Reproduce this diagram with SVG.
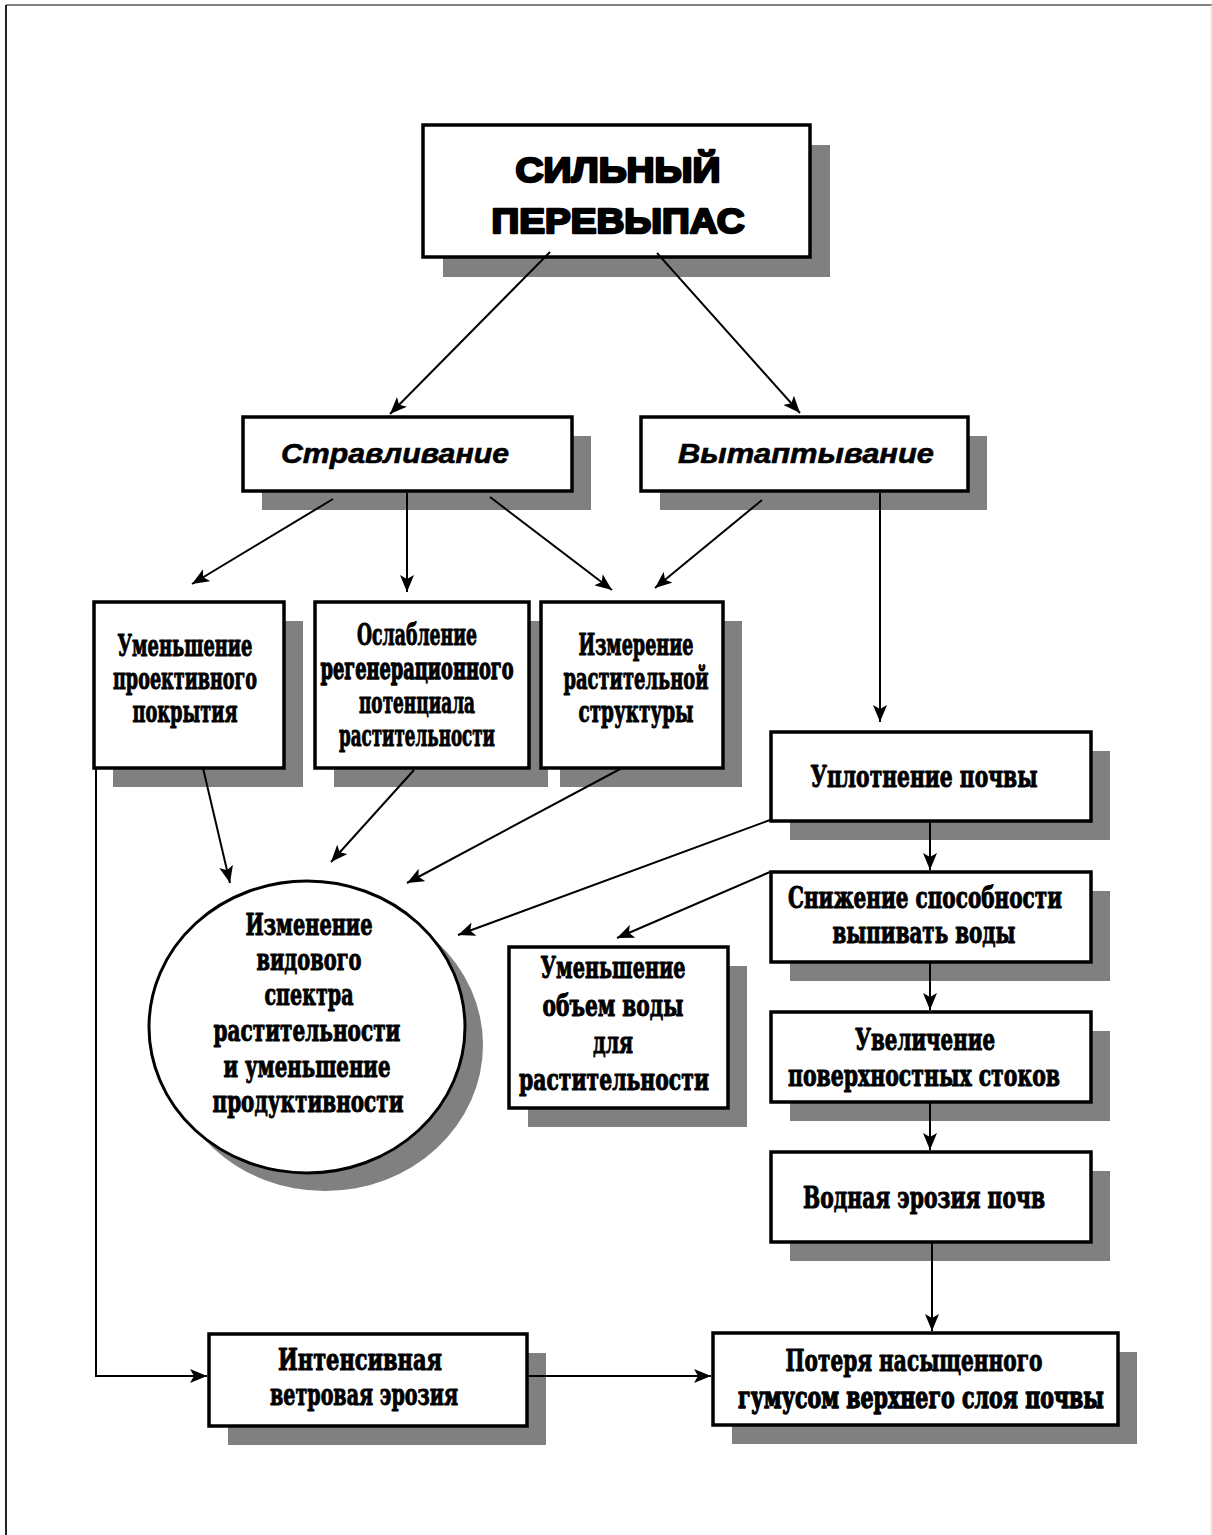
<svg xmlns="http://www.w3.org/2000/svg" width="1212" height="1535" viewBox="0 0 1212 1535">
<style>
.bx{fill:#fff;stroke:#000;stroke-width:3.5}
.sh{fill:#808080}
.t{font-family:"DejaVu Serif","Liberation Serif",serif;font-weight:bold;font-size:29px;text-anchor:middle;fill:#000;stroke:#000;stroke-width:1;stroke-linejoin:round}
.ts{font-size:22px}
.ti{font-family:"Liberation Sans",Arial,sans-serif;font-weight:bold;font-style:italic;font-size:28px;text-anchor:middle;fill:#000;stroke:#000;stroke-width:0.6}
.tt{font-family:"Liberation Sans",Arial,sans-serif;font-weight:900;font-size:35px;text-anchor:middle;fill:#000;stroke:#000;stroke-width:2.4;stroke-linejoin:round}
.c{stroke:#000;stroke-width:2;fill:none;marker-end:url(#a)}
</style>
<defs>
<marker id="a" markerUnits="userSpaceOnUse" markerWidth="18" markerHeight="14" refX="17" refY="7" orient="auto">
<path d="M0,0 L17,7 L0,14 L4,7 z" fill="#000"/>
</marker>
</defs>
<rect width="1212" height="1535" fill="#fff"/>
<g id="frame">
<line x1="6" y1="5" x2="1212" y2="5" stroke="#808080" stroke-width="2"/>
<line x1="6" y1="5" x2="6" y2="1535" stroke="#222" stroke-width="2"/>
<line x1="1211" y1="5" x2="1211" y2="1535" stroke="#ddd" stroke-width="1"/>
</g>
<g id="n-title">
<rect class="sh" x="443" y="145" width="387" height="132"/>
<rect class="bx" x="423" y="125" width="387" height="132"/>
<text class="tt" x="618" y="182" textLength="205" lengthAdjust="spacingAndGlyphs">СИЛЬНЫЙ</text>
<text class="tt" x="618" y="233" textLength="253" lengthAdjust="spacingAndGlyphs">ПЕРЕВЫПАС</text>
</g>
<g id="n-strav">
<rect class="sh" x="262" y="436" width="329" height="74"/>
<rect class="bx" x="243" y="417" width="329" height="74"/>
<text class="ti" x="395" y="463" textLength="228" lengthAdjust="spacingAndGlyphs">Стравливание</text>
</g>
<g id="n-vyt">
<rect class="sh" x="660" y="436" width="327" height="74"/>
<rect class="bx" x="641" y="417" width="327" height="74"/>
<text class="ti" x="806" y="463" textLength="256" lengthAdjust="spacingAndGlyphs">Вытаптывание</text>
</g>
<g id="n-umproekt">
<rect class="sh" x="113" y="621" width="190" height="166"/>
<rect class="bx" x="94" y="602" width="190" height="166"/>
<text class="t" x="185" y="656" textLength="135" lengthAdjust="spacingAndGlyphs">Уменьшение</text>
<text class="t" x="185" y="689" textLength="144" lengthAdjust="spacingAndGlyphs">проективного</text>
<text class="t" x="185" y="722" textLength="105" lengthAdjust="spacingAndGlyphs">покрытия</text>
</g>
<g id="n-oslab">
<rect class="sh" x="334" y="621" width="214" height="166"/>
<rect class="bx" x="315" y="602" width="214" height="166"/>
<text class="t" x="417" y="645" textLength="120" lengthAdjust="spacingAndGlyphs">Ослабление</text>
<text class="t ts" x="0" y="0" transform="translate(417,679) scale(1,1.32)" textLength="193" lengthAdjust="spacingAndGlyphs">регенерационного</text>
<text class="t" x="417" y="713" textLength="116" lengthAdjust="spacingAndGlyphs">потенциала</text>
<text class="t" x="417" y="746" textLength="156" lengthAdjust="spacingAndGlyphs">растительности</text>
</g>
<g id="n-izmer">
<rect class="sh" x="560" y="621" width="182" height="166"/>
<rect class="bx" x="541" y="602" width="182" height="166"/>
<text class="t" x="636" y="655" textLength="115" lengthAdjust="spacingAndGlyphs">Измерение</text>
<text class="t" x="636" y="689" textLength="145" lengthAdjust="spacingAndGlyphs">растительной</text>
<text class="t" x="636" y="722" textLength="115" lengthAdjust="spacingAndGlyphs">структуры</text>
</g>
<g id="n-uplot">
<rect class="sh" x="790" y="751" width="320" height="89"/>
<rect class="bx" x="771" y="732" width="320" height="89"/>
<text class="t" x="924" y="787" textLength="227" lengthAdjust="spacingAndGlyphs">Уплотнение  почвы</text>
</g>
<g id="n-snizh">
<rect class="sh" x="790" y="891" width="320" height="90"/>
<rect class="bx" x="771" y="872" width="320" height="90"/>
<text class="t" x="925" y="908" textLength="274" lengthAdjust="spacingAndGlyphs">Снижение  способности</text>
<text class="t" x="924" y="943" textLength="183" lengthAdjust="spacingAndGlyphs">выпивать  воды</text>
</g>
<g id="n-uvel">
<rect class="sh" x="790" y="1031" width="320" height="90"/>
<rect class="bx" x="771" y="1012" width="320" height="90"/>
<text class="t" x="925" y="1050" textLength="140" lengthAdjust="spacingAndGlyphs">Увеличение</text>
<text class="t" x="924" y="1086" textLength="272" lengthAdjust="spacingAndGlyphs">поверхностных  стоков</text>
</g>
<g id="n-vodn">
<rect class="sh" x="790" y="1171" width="320" height="90"/>
<rect class="bx" x="771" y="1152" width="320" height="90"/>
<text class="t" x="924" y="1208" textLength="242" lengthAdjust="spacingAndGlyphs">Водная  эрозия  почв</text>
</g>
<g id="n-umvod">
<rect class="sh" x="528" y="966" width="219" height="161"/>
<rect class="bx" x="509" y="947" width="219" height="161"/>
<text class="t" x="613" y="978" textLength="145" lengthAdjust="spacingAndGlyphs">Уменьшение</text>
<text class="t" x="613" y="1016" textLength="141" lengthAdjust="spacingAndGlyphs">объем  воды</text>
<text class="t" x="613" y="1053" textLength="40" lengthAdjust="spacingAndGlyphs">для</text>
<text class="t" x="614" y="1090" textLength="190" lengthAdjust="spacingAndGlyphs">растительности</text>
</g>
<g id="n-circle">
<ellipse class="sh" cx="325" cy="1045" rx="158" ry="146"/>
<ellipse cx="307" cy="1027" rx="158" ry="146" fill="#fff" stroke="#000" stroke-width="3"/>
<text class="t" x="309" y="935" textLength="127" lengthAdjust="spacingAndGlyphs">Изменение</text>
<text class="t" x="309" y="970" textLength="105" lengthAdjust="spacingAndGlyphs">видового</text>
<text class="t" x="309" y="1005" textLength="89" lengthAdjust="spacingAndGlyphs">спектра</text>
<text class="t" x="307" y="1041" textLength="187" lengthAdjust="spacingAndGlyphs">растительности</text>
<text class="t" x="307" y="1077" textLength="167" lengthAdjust="spacingAndGlyphs">и  уменьшение</text>
<text class="t" x="308" y="1112" textLength="191" lengthAdjust="spacingAndGlyphs">продуктивности</text>
</g>
<g id="n-intens">
<rect class="sh" x="228" y="1353" width="318" height="92"/>
<rect class="bx" x="209" y="1334" width="318" height="92"/>
<text class="t" x="360" y="1370" textLength="164" lengthAdjust="spacingAndGlyphs">Интенсивная</text>
<text class="t" x="364" y="1405" textLength="188" lengthAdjust="spacingAndGlyphs">ветровая  эрозия</text>
</g>
<g id="n-poter">
<rect class="sh" x="732" y="1352" width="405" height="92"/>
<rect class="bx" x="713" y="1333" width="405" height="92"/>
<text class="t" x="914" y="1371" textLength="257" lengthAdjust="spacingAndGlyphs">Потеря  насыщенного</text>
<text class="t ts" x="0" y="0" transform="translate(921,1408) scale(1,1.32)" textLength="366" lengthAdjust="spacingAndGlyphs">гумусом  верхнего  слоя  почвы</text>
</g>
<g id="connectors">
<path class="c" d="M550,252 L390,414"/>
<path class="c" d="M657,253 L800,413"/>
<path class="c" d="M333,499 L192,584"/>
<path class="c" d="M407,493 L407,592"/>
<path class="c" d="M490,497 L612,590"/>
<path class="c" d="M762,500 L655,588"/>
<path class="c" d="M880,493 L880,722"/>
<path class="c" d="M203,768 L230,883"/>
<path class="c" d="M414,770 L331,862"/>
<path class="c" d="M622,768 L407,883"/>
<path class="c" d="M770,820 L458,935"/>
<path class="c" d="M930,821 L930,870"/>
<path class="c" d="M770,872 L617,938"/>
<path class="c" d="M930,962 L930,1010"/>
<path class="c" d="M930,1102 L930,1150"/>
<path class="c" d="M932,1242 L932,1331"/>
<path class="c" d="M96,768 L96,1376 L207,1376"/>
<path class="c" d="M527,1376 L711,1376"/>
</g>
</svg>
